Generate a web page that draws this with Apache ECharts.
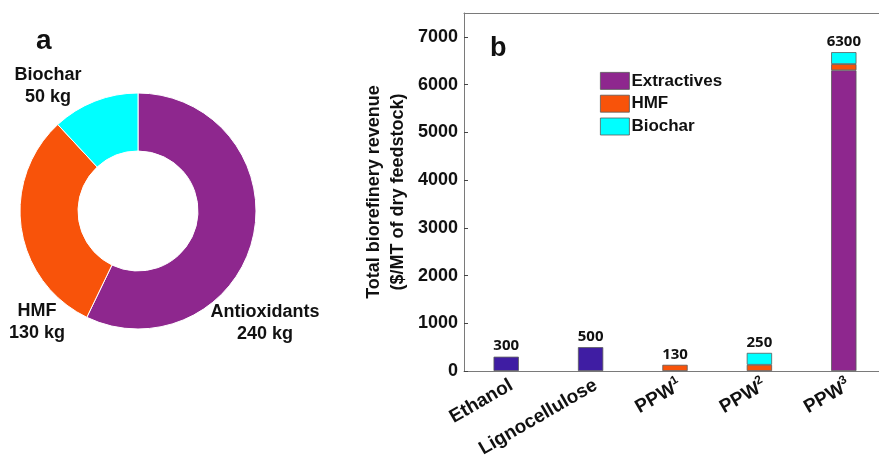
<!DOCTYPE html>
<html><head><meta charset="utf-8">
<script src="https://cdn.jsdelivr.net/npm/echarts@6/dist/echarts.min.js"></script>
<style>html,body{margin:0;padding:0;background:#fff}#c{width:879px;height:462px}</style>
</head><body><div id="c"></div>
<script>
// ---- data ----
const pieNames = ['Antioxidants', 'HMF', 'Biochar'];
const pieValues = [240, 130, 50];

const categories = ['Ethanol', 'Lignocellulose', 'PPW1', 'PPW2', 'PPW3'];
const conventional = [300, 500, '-', '-', '-'];
const extractives = ['-', '-', '-', '-', 6300];
const hmf = ['-', '-', 130, 130, 130];
const biochar = ['-', '-', '-', 250, 250];
const barLabels = ['300', '500', '130', '250', '6300'];
const yTicks = [0, 1000, 2000, 3000, 4000, 5000, 6000, 7000];

// ---- styles ----
const C_PURPLE = '#8E278E', C_ORANGE = '#F8530A', C_CYAN = '#00FFFF', C_BLUE = '#3F1DA3';
const FONT = 'Liberation Sans, Arial, sans-serif';
const AX = '#7a7a7a';

const stackSeries = [
  {name: 'Conventional', data: conventional, color: C_BLUE},
  {name: 'Extractives', data: extractives, color: C_PURPLE},
  {name: 'HMF', data: hmf, color: C_ORANGE},
  {name: 'Biochar', data: biochar, color: C_CYAN}
];
const topIdx = categories.map((_, i) => {
  let t = -1;
  stackSeries.forEach((s, k) => { if (s.data[i] !== '-') t = k; });
  return t;
});
const barSeries = stackSeries.map((s, k) => ({
  name: s.name, type: 'bar', stack: 'total', barWidth: '30%',
  xAxisIndex: 0, yAxisIndex: 0,
  itemStyle: {color: s.color, borderColor: '#5a5a5a', borderWidth: 0.8},
  emphasis: {disabled: true},
  data: s.data.map((v, i) => topIdx[i] === k ? {
    value: v,
    label: {show: true, position: 'top', distance: 3, formatter: barLabels[i],
      fontFamily: 'Open Sans, sans-serif', fontWeight: 'bold', fontSize: 15, color: '#111'}
  } : v)
}));

const pieColors = [C_PURPLE, C_ORANGE, C_CYAN];
const pieLabelPos = [[265, 323], [37, 322], [48, 86]];

const chart = echarts.init(document.getElementById('c'), null, {renderer: 'canvas'});
chart.setOption({
  animation: false,
  backgroundColor: '#fff',
  textStyle: {fontFamily: FONT},
  grid: {left: 464, top: 13, width: 422, height: 358, containLabel: false, outerBoundsMode: 'none'},
  legend: {
    orient: 'vertical', left: 600, top: 72, padding: 0, itemWidth: 29, itemHeight: 17, itemGap: 5,
    data: ['Extractives', 'HMF', 'Biochar'], icon: 'rect',
    textStyle: {fontFamily: FONT, fontWeight: 'bold', fontSize: 17, color: '#111', padding: [0, 0, 0, -3]},
    itemStyle: {borderColor: '#5a5a5a', borderWidth: 0.8},
    selectedMode: false
  },
  xAxis: [{
    type: 'category', data: categories, position: 'bottom',
    axisLine: {lineStyle: {color: AX, width: 1}},
    axisTick: {inside: true, length: 4, alignWithLabel: true, lineStyle: {color: '#444'}},
    axisLabel: {
      interval: 0, rotate: 30, margin: 16, padding: [0, -6, 0, 0],
      color: '#111', fontFamily: FONT, fontWeight: 'bold', fontSize: 19,
      formatter: v => {
        const m = v.match(/^(PPW)(\d)$/);
        return m ? '{n|' + m[1] + '}{s|' + m[2] + '}' : '{n|' + v + '}';
      },
      rich: {
        n: {fontFamily: FONT, fontWeight: 'bold', fontSize: 19, color: '#111'},
        s: {fontFamily: FONT, fontWeight: 'bold', fontSize: 12, color: '#111', verticalAlign: 'top', padding: [0, 0, 12, 0]}
      }
    }
  }, {
    type: 'category', data: categories, position: 'top',
    axisLine: {lineStyle: {color: AX, width: 1}},
    axisTick: {inside: true, length: 4, alignWithLabel: true, lineStyle: {color: '#444'}},
    axisLabel: {show: false}
  }],
  yAxis: [{
    type: 'value', min: 0, max: 7500, interval: 1000,
    name: 'Total biorefinery revenue\n($/MT of dry feedstock)',
    nameLocation: 'middle', nameGap: 54, nameRotate: 90,
    nameTextStyle: {fontFamily: FONT, fontWeight: 'bold', fontSize: 18, color: '#111', lineHeight: 24},
    axisLine: {show: true, lineStyle: {color: AX, width: 1}},
    axisTick: {show: true, inside: true, length: 4, lineStyle: {color: '#444'}},
    splitLine: {show: false},
    axisLabel: {
      showMaxLabel: false, margin: 6, color: '#111', fontFamily: FONT, fontWeight: 'bold', fontSize: 18,
      formatter: v => yTicks.indexOf(v) >= 0 ? String(v) : ''
    }
  }],
  graphic: [
    {type: 'text', left: 36, top: 27, style: {text: 'a', font: 'bold 28px ' + FONT, fill: '#111'}},
    {type: 'text', left: 490, top: 35, style: {text: 'b', font: 'bold 27px ' + FONT, fill: '#111'}}
  ].concat(pieNames.map((n, i) => ({
    type: 'text', x: pieLabelPos[i][0], y: pieLabelPos[i][1],
    style: {text: n + '\n' + pieValues[i] + ' kg', font: 'bold 18px ' + FONT, lineHeight: 22,
      fill: '#111', align: 'center', verticalAlign: 'middle'}
  }))),
  series: [{
    type: 'pie', center: [138, 211], radius: [60, 118], startAngle: 90, clockwise: true,
    itemStyle: {borderColor: '#fff', borderWidth: 1},
    emphasis: {disabled: true},
    label: {show: false}, labelLine: {show: false},
    data: pieNames.map((n, i) => ({name: n, value: pieValues[i], itemStyle: {color: pieColors[i]}}))
  }].concat(barSeries)
});
</script></body></html>
